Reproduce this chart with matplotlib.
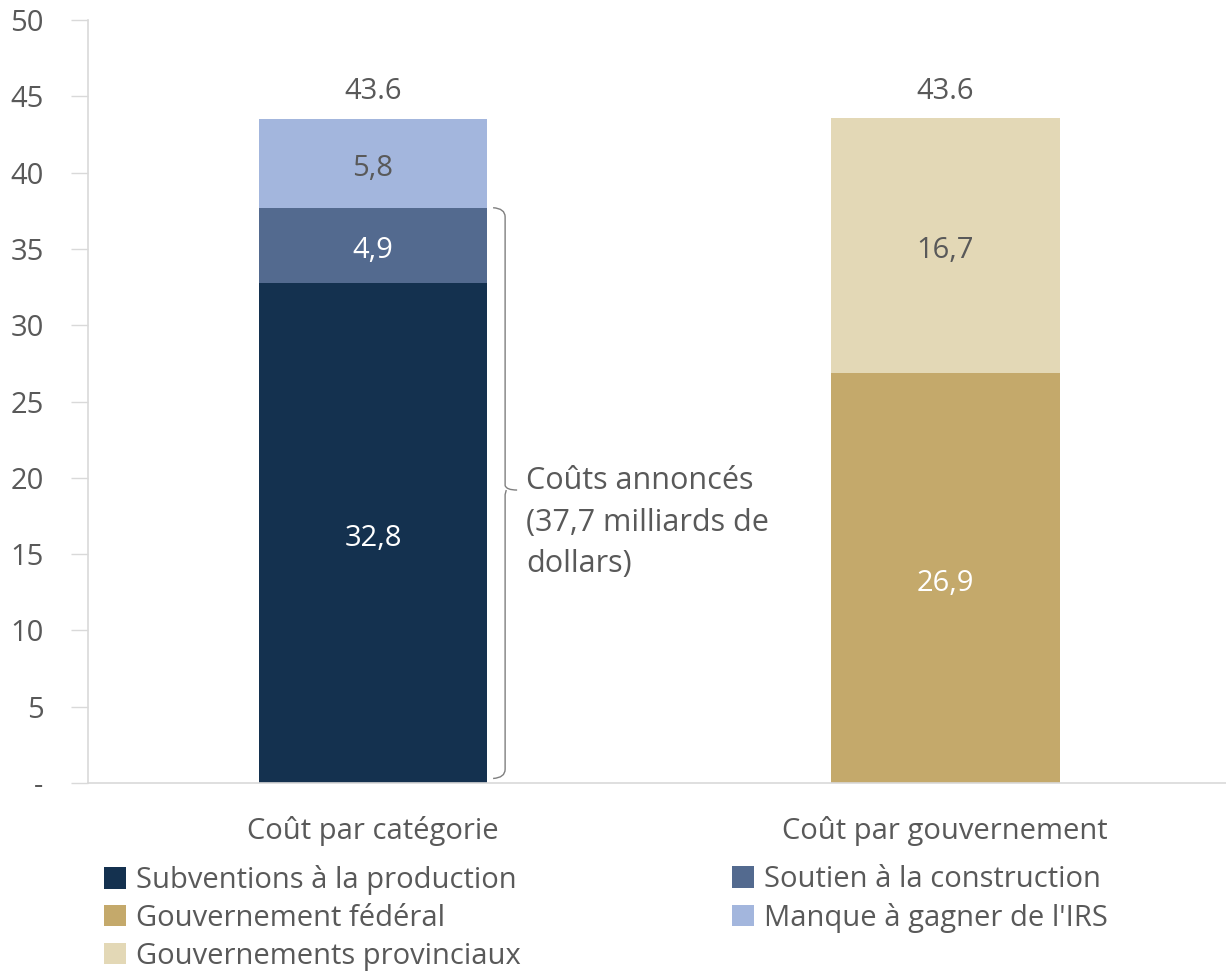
import matplotlib.pyplot as plt
from matplotlib.path import Path
from matplotlib.patches import PathPatch

plt.rcParams['font.family'] = ['Open Sans', 'DejaVu Sans']

categories = ['Coût par catégorie', 'Coût par gouvernement']
subventions = [32.8, 0]
soutien = [4.9, 0]
manque = [5.8, 0]
federal = [0, 26.9]
provinciaux = [0, 16.7]
totals = [43.6, 43.6]
annonces = 37.7

colors = {
    'Subventions à la production': '#14314f',
    'Soutien à la construction': '#536a8f',
    "Manque à gagner de l'IRS": '#a3b6dd',
    'Gouvernement fédéral': '#c4a96b',
    'Gouvernements provinciaux': '#e3d8b6',
}
legend_col1 = ['Subventions à la production', 'Gouvernement fédéral',
               'Gouvernements provinciaux']
legend_col2 = ['Soutien à la construction', "Manque à gagner de l'IRS"]
text_gray = '#595959'
fs = 21

fig = plt.figure(figsize=(12.26, 9.72), dpi=100)
ax = fig.add_axes([0.0718, 0.1944, 0.9282, 0.7850])

x = [0, 1]
w = 0.40
handles = {}


def draw_stack(stack):
    bottom = [0, 0]
    for name, vals, tc in stack:
        b = ax.bar(x, vals, w, bottom=bottom, color=colors[name], label=name)
        handles[name] = b
        for xi, v, bt in zip(x, vals, bottom):
            if v > 0:
                ax.text(xi, bt + v / 2 - 0.35, f'{v:.1f}'.replace('.', ','),
                        ha='center', va='center', color=tc, fontsize=fs)
        bottom = [a + c for a, c in zip(bottom, vals)]


draw_stack([('Subventions à la production', subventions, 'white'),
            ('Soutien à la construction', soutien, 'white'),
            ("Manque à gagner de l'IRS", manque, text_gray)])
draw_stack([('Gouvernement fédéral', federal, 'white'),
            ('Gouvernements provinciaux', provinciaux, text_gray)])

for xi, t in zip(x, totals):
    ax.text(xi, t + 1.7, f'{t:.1f}', ha='center', va='center',
            color=text_gray, fontsize=fs)

# brace for announced costs
bx0, bx1, tip = 0.21, 0.231, 0.252
ytop, ybot = annonces, 0.3
ymid = 19.2
verts = [(bx0, ytop), (bx1, ytop - 0.05), (bx1, ytop - 0.6),
         (bx1, ymid + 0.3), (bx1 + 0.002, ymid), (tip, ymid),
         (bx1 + 0.002, ymid), (bx1, ymid - 0.3),
         (bx1, ybot + 0.6), (bx1, ybot + 0.05), (bx0, ybot)]
codes = [Path.MOVETO, Path.CURVE3, Path.CURVE3, Path.LINETO, Path.CURVE3,
         Path.CURVE3, Path.MOVETO, Path.LINETO, Path.LINETO, Path.CURVE3,
         Path.CURVE3]
ax.add_patch(PathPatch(Path(verts, codes), fill=False, edgecolor='#7f7f7f',
                       linewidth=1.0))
ax.text(0.268, 20.75, 'Coûts annoncés\n(37,7 milliards de\ndollars)', ha='left',
        va='top', color=text_gray, fontsize=22, linespacing=1.5)

ax.set_xlim(-0.498, 1.491)
ax.set_ylim(0, 50)
yt = [0, 5, 10, 15, 20, 25, 30, 35, 40, 45, 50]
ax.set_yticks(yt)
ax.set_yticklabels(['-'] + [str(v) for v in yt[1:]])
ax.set_xticks(x)
ax.set_xticklabels(categories)
ax.tick_params(axis='y', length=12, width=1, color='#d9d9d9', colors=text_gray,
               labelsize=fs, pad=20)
ax.tick_params(axis='x', length=0, colors=text_gray, labelsize=fs, pad=24)
for s in ['top', 'right']:
    ax.spines[s].set_visible(False)
for s in ['left', 'bottom']:
    ax.spines[s].set_color('#d9d9d9')
    ax.spines[s].set_linewidth(1.2)

leg_kw = dict(loc='upper left', frameon=False, fontsize=fs, handlelength=0.75,
              handleheight=0.75, handletextpad=0.35, labelspacing=0.3,
              borderpad=0, borderaxespad=0)
leg1 = fig.legend([handles[n] for n in legend_col1], legend_col1,
                  bbox_to_anchor=(0.085, 0.110), **leg_kw)
leg2 = fig.legend([handles[n] for n in legend_col2], legend_col2,
                  bbox_to_anchor=(0.597, 0.110), **leg_kw)
for lg in (leg1, leg2):
    for t in lg.get_texts():
        t.set_color(text_gray)

fig.savefig('out.png', dpi=100)
